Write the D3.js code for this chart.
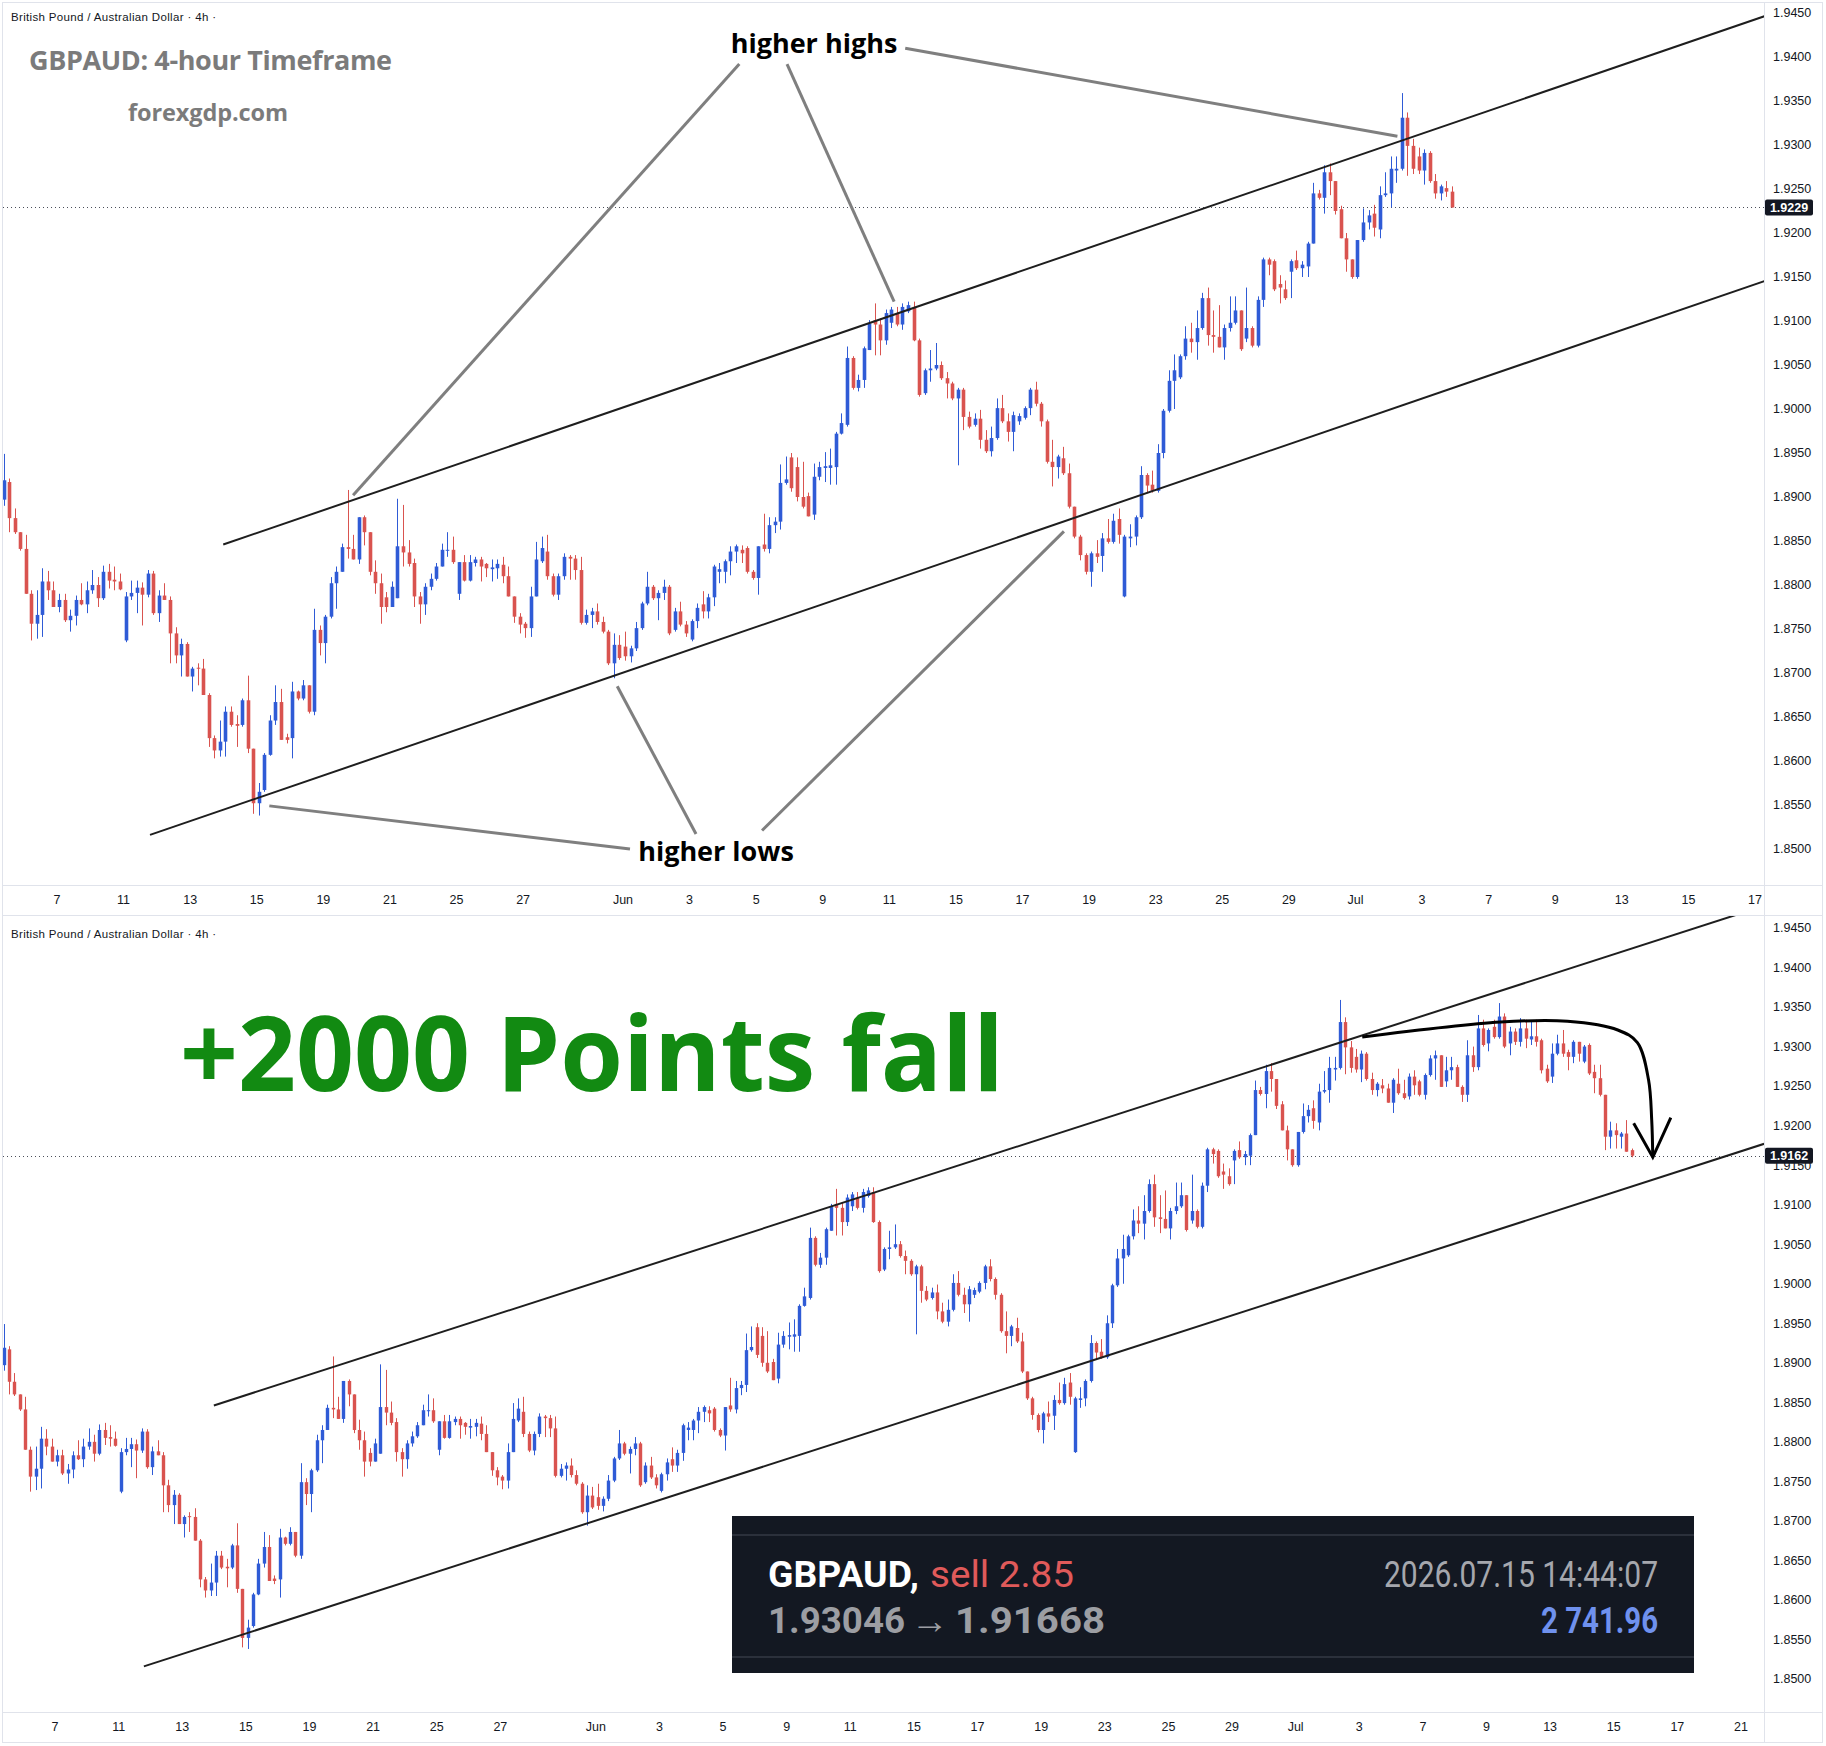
<!DOCTYPE html>
<html>
<head>
<meta charset="utf-8">
<script src="https://cdn.jsdelivr.net/npm/d3@7"></script>
<style>
  body { margin: 0; background: #fff; }
  svg text { font-family: "Liberation Sans", Arial, sans-serif; }
</style>
</head>
<body>
<svg id="chart" width="1826" height="1746"></svg>
<script>
// GBPAUD 4h candles (one value per 4h bar, May 5 -> Jul 15)
var opens = [
1.8897,1.8917,1.8876,1.8860,1.8841,1.8790,1.8756,1.8766,1.8804,1.8794,
1.8775,1.8783,1.8760,1.8765,1.8783,1.8778,1.8794,1.8800,1.8785,1.8815,
1.8806,1.8804,1.8737,1.8787,1.8791,1.8797,1.8789,1.8813,1.8768,1.8788,
1.8783,1.8745,1.8720,1.8733,1.8696,1.8706,1.8705,1.8675,1.8626,1.8612,
1.8622,1.8656,1.8642,1.8641,1.8669,1.8614,1.8552,1.8567,1.8607,1.8646,
1.8667,1.8627,1.8626,1.8679,1.8671,1.8686,1.8656,1.8749,1.8734,1.8764,
1.8802,1.8815,1.8843,1.8841,1.8829,1.8877,1.8860,1.8815,1.8802,1.8786,
1.8775,1.8785,1.8844,1.8837,1.8825,1.8787,1.8778,1.8798,1.8807,1.8821,
1.8839,1.8840,1.8790,1.8826,1.8805,1.8825,1.8829,1.8824,1.8818,1.8819,
1.8823,1.8810,1.8787,1.8764,1.8756,1.8751,1.8787,1.8827,1.8838,1.8810,
1.8789,1.8810,1.8832,1.8830,1.8817,1.8757,1.8766,1.8770,1.8758,1.8747,
1.8711,1.8732,1.8730,1.8719,1.8728,1.8751,1.8779,1.8798,1.8785,1.8791,
1.8798,1.8749,1.8770,1.8755,1.8738,1.8759,1.8778,1.8770,1.8786,1.8815,
1.8815,1.8827,1.8838,1.8840,1.8842,1.8815,1.8808,1.8846,1.8841,1.8868,
1.8872,1.8916,1.8945,1.8934,1.8900,1.8901,1.8880,1.8923,1.8933,1.8933,
1.8934,1.8972,1.8982,1.9058,1.9024,1.9033,1.9067,1.9101,1.9096,1.9078,
1.9098,1.9109,1.9096,1.9111,1.9116,1.9078,1.9018,1.9044,1.9046,1.9050,
1.9035,1.9029,1.9012,1.9022,1.8991,1.8982,1.8989,1.8965,1.8952,1.8967,
1.9001,1.8986,1.8974,1.8986,1.8990,1.9001,1.9022,1.9006,1.8986,1.8940,
1.8934,1.8944,1.8927,1.8889,1.8855,1.8834,1.8815,1.8836,1.8833,1.8853,
1.8849,1.8875,1.8787,1.8853,1.8855,1.8877,1.8925,1.8914,1.8907,1.8950,
1.8998,1.9032,1.9036,1.9060,1.9080,1.9076,1.9092,1.9126,1.9084,1.9082,
1.9070,1.9092,1.9098,1.9112,1.9080,1.9092,1.9072,1.9124,1.9170,1.9168,
1.9142,1.9136,1.9156,1.9169,1.9160,1.9162,1.9188,1.9245,1.9240,1.9269,
1.9259,1.9227,1.9194,1.9170,1.9150,1.9192,1.9212,1.9222,1.9204,1.9243,
1.9245,1.9271,1.9273,1.9331,1.9299,1.9287,1.9271,1.9291,1.9259,1.9245,
1.9251,1.9247,1.9229,1.9253,1.9241,1.9237,1.9262,1.9256,1.9239,1.9264,
1.9285,1.9289,1.9256,1.9270,1.9274,1.9249,1.9239,1.9289,1.9274,1.9323,
1.9304,1.9325,1.9312,1.9338,1.9304,1.9319,1.9306,1.9323,1.9309,1.9313,
1.9308,1.9272,1.9262,1.9291,1.9304,1.9293,1.9287,1.9306,1.9281,1.9302,
1.9268,1.9260,1.9239,1.9186,1.9194,1.9186,1.9190,1.9169];

var highs = [
1.8949,1.8921,1.8887,1.8860,1.8857,1.8794,1.8794,1.8819,1.8816,1.8804,
1.8790,1.8790,1.8772,1.8788,1.8802,1.8804,1.8817,1.8809,1.8822,1.8824,
1.8821,1.8813,1.8792,1.8805,1.8805,1.8803,1.8817,1.8816,1.8794,1.8802,
1.8787,1.8752,1.8739,1.8735,1.8707,1.8711,1.8716,1.8677,1.8629,1.8646,
1.8662,1.8662,1.8652,1.8671,1.8697,1.8614,1.8575,1.8609,1.8652,1.8686,
1.8682,1.8631,1.8690,1.8680,1.8692,1.8686,1.8773,1.8754,1.8766,1.8809,
1.8821,1.8847,1.8908,1.8857,1.8877,1.8879,1.8860,1.8828,1.8813,1.8792,
1.8804,1.8898,1.8891,1.8851,1.8830,1.8792,1.8802,1.8813,1.8825,1.8847,
1.8860,1.8855,1.8826,1.8834,1.8834,1.8832,1.8832,1.8825,1.8829,1.8829,
1.8832,1.8821,1.8787,1.8768,1.8758,1.8798,1.8849,1.8855,1.8857,1.8813,
1.8813,1.8836,1.8834,1.8834,1.8832,1.8772,1.8774,1.8779,1.8764,1.8749,
1.8745,1.8743,1.8747,1.8731,1.8758,1.8781,1.8815,1.8800,1.8794,1.8806,
1.8800,1.8774,1.8781,1.8759,1.8761,1.8779,1.8793,1.8790,1.8823,1.8825,
1.8829,1.8844,1.8846,1.8845,1.8844,1.8817,1.8844,1.8881,1.8877,1.8877,
1.8937,1.8946,1.8950,1.8945,1.8940,1.8905,1.8938,1.8940,1.8951,1.8955,
1.8974,1.8995,1.9071,1.9060,1.9039,1.9071,1.9101,1.9120,1.9103,1.9113,
1.9116,1.9116,1.9120,1.9122,1.9122,1.9080,1.9046,1.9067,1.9075,1.9054,
1.9042,1.9031,1.9024,1.9024,1.8997,1.8995,1.8999,1.8976,1.8980,1.9012,
1.9016,1.8995,1.8997,1.8995,1.9003,1.9024,1.9031,1.9008,1.8988,1.8965,
1.8948,1.8957,1.8938,1.8889,1.8857,1.8836,1.8838,1.8851,1.8859,1.8875,
1.8881,1.8887,1.8857,1.8869,1.8879,1.8935,1.8927,1.8930,1.8960,1.9000,
1.9044,1.9062,1.9062,1.9094,1.9098,1.9112,1.9132,1.9138,1.9112,1.9118,
1.9096,1.9128,1.9128,1.9112,1.9138,1.9094,1.9128,1.9172,1.9172,1.9170,
1.9152,1.9146,1.9170,1.9180,1.9168,1.9190,1.9257,1.9249,1.9277,1.9279,
1.9259,1.9231,1.9200,1.9170,1.9192,1.9228,1.9226,1.9232,1.9253,1.9269,
1.9287,1.9287,1.9359,1.9337,1.9307,1.9297,1.9295,1.9293,1.9267,1.9255,
1.9259,1.9253,1.9260,1.9272,1.9258,1.9266,1.9270,1.9258,1.9266,1.9289,
1.9295,1.9289,1.9287,1.9287,1.9277,1.9251,1.9308,1.9300,1.9340,1.9334,
1.9323,1.9334,1.9355,1.9342,1.9325,1.9323,1.9336,1.9334,1.9332,1.9334,
1.9310,1.9277,1.9304,1.9315,1.9321,1.9296,1.9308,1.9306,1.9302,1.9304,
1.9277,1.9277,1.9239,1.9205,1.9203,1.9192,1.9207,1.9171];

var lows = [
1.8890,1.8860,1.8858,1.8839,1.8790,1.8737,1.8739,1.8741,1.8783,1.8775,
1.8769,1.8758,1.8747,1.8754,1.8777,1.8768,1.8790,1.8775,1.8783,1.8796,
1.8794,1.8794,1.8735,1.8783,1.8768,1.8754,1.8786,1.8766,1.8758,1.8783,
1.8711,1.8711,1.8696,1.8696,1.8679,1.8686,1.8675,1.8616,1.8603,1.8605,
1.8605,1.8639,1.8616,1.8639,1.8609,1.8540,1.8538,1.8565,1.8606,1.8641,
1.8624,1.8620,1.8603,1.8669,1.8669,1.8654,1.8652,1.8720,1.8711,1.8762,
1.8773,1.8815,1.8830,1.8829,1.8824,1.8845,1.8811,1.8790,1.8756,1.8769,
1.8775,1.8785,1.8821,1.8821,1.8775,1.8756,1.8766,1.8794,1.8805,1.8821,
1.8832,1.8824,1.8783,1.8804,1.8804,1.8821,1.8804,1.8809,1.8804,1.8807,
1.8802,1.8787,1.8757,1.8745,1.8740,1.8741,1.8787,1.8825,1.8806,1.8787,
1.8783,1.8806,1.8806,1.8806,1.8755,1.8755,1.8751,1.8755,1.8745,1.8709,
1.8694,1.8715,1.8714,1.8712,1.8725,1.8749,1.8777,1.8783,1.8760,1.8783,
1.8743,1.8747,1.8753,1.8741,1.8736,1.8751,1.8762,1.8762,1.8776,1.8802,
1.8802,1.8811,1.8825,1.8825,1.8813,1.8806,1.8789,1.8838,1.8836,1.8859,
1.8863,1.8914,1.8906,1.8895,1.8887,1.8878,1.8874,1.8919,1.8917,1.8914,
1.8914,1.8971,1.8980,1.9022,1.9020,1.9024,1.9067,1.9061,1.9061,1.9073,
1.9092,1.9094,1.9090,1.9109,1.9077,1.9014,1.9016,1.9031,1.9044,1.9033,
1.9012,1.9010,1.8936,1.8976,1.8978,1.8980,1.8955,1.8950,1.8946,1.8965,
1.8984,1.8963,1.8952,1.8982,1.8988,1.8993,1.9003,1.8980,1.8938,1.8912,
1.8921,1.8925,1.8887,1.8853,1.8828,1.8812,1.8798,1.8825,1.8815,1.8847,
1.8847,1.8847,1.8786,1.8843,1.8845,1.8875,1.8905,1.8905,1.8905,1.8944,
1.8996,1.9000,1.9034,1.9056,1.9064,1.9056,1.9090,1.9072,1.9064,1.9070,
1.9056,1.9088,1.9096,1.9066,1.9076,1.9070,1.9070,1.9116,1.9152,1.9134,
1.9120,1.9124,1.9126,1.9158,1.9150,1.9150,1.9188,1.9238,1.9222,1.9243,
1.9221,1.9194,1.9156,1.9148,1.9148,1.9190,1.9204,1.9196,1.9194,1.9241,
1.9229,1.9257,1.9271,1.9265,1.9267,1.9267,1.9255,1.9257,1.9239,1.9237,
1.9241,1.9229,1.9216,1.9239,1.9233,1.9233,1.9239,1.9237,1.9233,1.9262,
1.9258,1.9249,1.9249,1.9258,1.9249,1.9230,1.9230,1.9268,1.9270,1.9300,
1.9294,1.9310,1.9310,1.9298,1.9289,1.9302,1.9300,1.9298,1.9302,1.9300,
1.9266,1.9254,1.9254,1.9289,1.9287,1.9270,1.9279,1.9281,1.9279,1.9264,
1.9241,1.9237,1.9169,1.9171,1.9171,1.9171,1.9167,1.9160];

var closes = [
1.8919,1.8876,1.8860,1.8841,1.8790,1.8756,1.8766,1.8804,1.8794,1.8775,
1.8783,1.8760,1.8765,1.8783,1.8778,1.8794,1.8800,1.8785,1.8815,1.8805,
1.8804,1.8795,1.8787,1.8791,1.8797,1.8789,1.8813,1.8768,1.8788,1.8783,
1.8745,1.8720,1.8733,1.8696,1.8705,1.8705,1.8675,1.8626,1.8612,1.8622,
1.8656,1.8641,1.8640,1.8669,1.8614,1.8552,1.8565,1.8607,1.8646,1.8667,
1.8624,1.8624,1.8679,1.8671,1.8686,1.8656,1.8749,1.8734,1.8764,1.8802,
1.8815,1.8843,1.8841,1.8829,1.8877,1.8860,1.8815,1.8802,1.8775,1.8775,
1.8798,1.8844,1.8837,1.8824,1.8787,1.8778,1.8798,1.8807,1.8821,1.8840,
1.8840,1.8826,1.8826,1.8805,1.8826,1.8829,1.8821,1.8819,1.8820,1.8824,
1.8810,1.8787,1.8764,1.8755,1.8751,1.8787,1.8829,1.8842,1.8810,1.8789,
1.8810,1.8832,1.8830,1.8817,1.8757,1.8766,1.8770,1.8758,1.8747,1.8711,
1.8732,1.8717,1.8719,1.8728,1.8751,1.8779,1.8798,1.8785,1.8791,1.8798,
1.8745,1.8770,1.8755,1.8745,1.8759,1.8774,1.8770,1.8786,1.8821,1.8818,
1.8827,1.8838,1.8844,1.8836,1.8815,1.8808,1.8844,1.8841,1.8868,1.8872,
1.8916,1.8920,1.8910,1.8900,1.8889,1.8878,1.8923,1.8934,1.8935,1.8936,
1.8972,1.8984,1.9058,1.9024,1.9033,1.9069,1.9097,1.9096,1.9078,1.9109,
1.9113,1.9096,1.9116,1.9118,1.9078,1.9016,1.9044,1.9046,1.9050,1.9035,
1.9029,1.9012,1.9022,1.8991,1.8980,1.8989,1.8965,1.8952,1.8967,1.9001,
1.8986,1.8974,1.8993,1.8992,1.9001,1.9022,1.9006,1.8986,1.8940,1.8934,
1.8946,1.8927,1.8889,1.8855,1.8834,1.8815,1.8836,1.8832,1.8853,1.8849,
1.8873,1.8857,1.8855,1.8855,1.8877,1.8925,1.8913,1.8907,1.8950,1.8998,
1.9032,1.9044,1.9060,1.9080,1.9076,1.9092,1.9126,1.9084,1.9082,1.9070,
1.9092,1.9098,1.9112,1.9068,1.9092,1.9072,1.9124,1.9170,1.9164,1.9136,
1.9138,1.9126,1.9168,1.9160,1.9164,1.9188,1.9245,1.9240,1.9269,1.9259,
1.9225,1.9194,1.9170,1.9150,1.9192,1.9212,1.9220,1.9206,1.9243,1.9245,
1.9273,1.9273,1.9331,1.9299,1.9273,1.9271,1.9291,1.9259,1.9245,1.9253,
1.9247,1.9229,1.9258,1.9241,1.9235,1.9262,1.9251,1.9239,1.9264,1.9285,
1.9289,1.9249,1.9270,1.9274,1.9249,1.9239,1.9289,1.9274,1.9323,1.9302,
1.9321,1.9312,1.9338,1.9300,1.9319,1.9306,1.9323,1.9310,1.9313,1.9306,
1.9270,1.9256,1.9291,1.9304,1.9291,1.9287,1.9306,1.9291,1.9300,1.9266,
1.9260,1.9239,1.9186,1.9194,1.9188,1.9190,1.9167,1.9162];

// time axis: trading days counted from May 7, six 4h bars per day
var BAR0 = 9.64;
var tickDays   = [0,2,4,6,8,10,12,14,17,19,21,23,25,27,29,31,33,35,37,39,41,43,45,47,49,51,53];
var tickLabels = ["7","11","13","15","19","21","25","27","Jun","3","5","9","11","15","17","19","23","25","29","Jul","3","7","9","13","15","17","21"];

var priceTicks = [1.945,1.940,1.935,1.930,1.925,1.920,1.915,1.910,1.905,1.900,
                  1.895,1.890,1.885,1.880,1.875,1.870,1.865,1.860,1.855,1.850];

// channel lines [bar, price]
var channelUpper = [[39.6, 1.8846], [332, 1.9478]];
var channelLower = [[26.4, 1.8516], [332, 1.9177]];

// pointer lines of the top chart [bar, price]
var highsPointers = [
  [[132.6, 1.9392], [63.0, 1.8902]],
  [[141.2, 1.9392], [160.5, 1.9122]],
  [[162.5, 1.9410], [251.2, 1.9310]]
];
var lowsPointers = [
  [[47.9, 1.8549], [112.9, 1.8500]],
  [[110.6, 1.8685], [124.8, 1.8517]],
  [[136.7, 1.8521], [191.1, 1.8861]]
];

// curved arrow of the bottom chart [bar, price]
var arrowPath = [[256.2,1.9312],[282.3,1.9331],[294.9,1.9332],[304.4,1.9321],
                 [308.1,1.9305],[310.2,1.9258],[310.8,1.9207],[311.0,1.9160]];
var arrowHead = [[307.4,1.9203],[311.0,1.9160],[314.4,1.9210]];

var UP = "#2f5bd6", DOWN = "#d9534f", FRAME = "#e0e3eb", INK = "#131722";

var svg = d3.select("#chart");
svg.append("rect").attr("width", 1826).attr("height", 1746).attr("fill", "#fff");

var panels = [
  { name: "top", top: 3, chartBottom: 885, axisBottom: 915, nBars: 262, last: 1.9229, head: 18,
    x: d3.scaleLinear().domain([BAR0, BAR0 + 6 * 51]).range([57, 1755]),
    y: d3.scaleLinear().domain([1.85, 1.945]).range([849, 13]), bw: 3.6 },
  { name: "bottom", top: 916, chartBottom: 1712, axisBottom: 1742, nBars: 308, last: 1.9162, head: 22,
    x: d3.scaleLinear().domain([BAR0, BAR0 + 6 * 53]).range([55, 1741]),
    y: d3.scaleLinear().domain([1.85, 1.945]).range([1679, 928]), bw: 3.4 }
];

function drawPanel(p) {
  var g = svg.append("g");
  var clipId = "clip-" + p.name;
  svg.append("clipPath").attr("id", clipId)
    .append("rect").attr("x", 3).attr("y", p.top)
    .attr("width", 1761).attr("height", p.chartBottom - p.top);

  // frame
  g.append("rect").attr("x", 2.5).attr("y", p.top - 0.5)
    .attr("width", 1820).attr("height", p.axisBottom - p.top + 1)
    .attr("fill", "none").attr("stroke", FRAME);
  g.append("line").attr("x1", 3).attr("x2", 1822)
    .attr("y1", p.chartBottom + 0.5).attr("y2", p.chartBottom + 0.5).attr("stroke", FRAME);
  g.append("line").attr("x1", 1764.5).attr("x2", 1764.5)
    .attr("y1", p.top).attr("y2", p.axisBottom).attr("stroke", FRAME);

  // header
  g.append("text").attr("x", 11).attr("y", p.top + p.head)
    .attr("font-size", 11.5).attr("fill", INK).attr("textLength", 205)
    .text("British Pound / Australian Dollar \u00b7 4h \u00b7");

  // price axis (the last-price tag sits on top of the tick it covers, as in the original)
  g.selectAll(".ptick").data(priceTicks).enter().append("text")
    .attr("x", 1773).attr("y", function(d) { return p.y(d); })
    .attr("dy", "0.35em").attr("font-size", 12.5).attr("fill", INK)
    .text(function(d) { return d.toFixed(4); });

  // time axis
  var ticks = tickDays.map(function(d, i) { return { bar: BAR0 + 6 * d, label: tickLabels[i] }; })
    .filter(function(t) { return p.x(t.bar) < 1760; });
  g.selectAll(".ttick").data(ticks).enter().append("text")
    .attr("x", function(t) { return p.x(t.bar); })
    .attr("y", p.chartBottom + 19).attr("text-anchor", "middle")
    .attr("font-size", 12.5).attr("fill", INK)
    .text(function(t) { return t.label; });

  var plot = g.append("g").attr("clip-path", "url(#" + clipId + ")");

  // dotted last-price line
  plot.append("line").attr("x1", 3).attr("x2", 1764)
    .attr("y1", Math.round(p.y(p.last)) + 0.5).attr("y2", Math.round(p.y(p.last)) + 0.5)
    .attr("stroke", "#4a4e59").attr("stroke-dasharray", "1,3");

  // candles
  var bars = d3.range(p.nBars);
  var cg = plot.selectAll(".candle").data(bars).enter().append("g");
  cg.append("line")
    .attr("x1", function(i) { return Math.round(p.x(i)) + 0.5; })
    .attr("x2", function(i) { return Math.round(p.x(i)) + 0.5; })
    .attr("y1", function(i) { return p.y(Math.max(highs[i], opens[i], closes[i])); })
    .attr("y2", function(i) { return p.y(Math.min(lows[i], opens[i], closes[i])); })
    .attr("stroke", function(i) { return closes[i] >= opens[i] ? UP : DOWN; })
    .attr("stroke-width", 1);
  cg.append("rect")
    .attr("x", function(i) { return Math.round(p.x(i)) + 0.5 - p.bw / 2; })
    .attr("width", p.bw)
    .attr("y", function(i) { return p.y(Math.max(opens[i], closes[i])); })
    .attr("height", function(i) { return Math.max(1, Math.abs(p.y(opens[i]) - p.y(closes[i]))); })
    .attr("fill", function(i) { return closes[i] >= opens[i] ? UP : DOWN; });

  // channel
  var line = d3.line().x(function(d) { return p.x(d[0]); }).y(function(d) { return p.y(d[1]); });
  [channelUpper, channelLower].forEach(function(c) {
    plot.append("path").attr("d", line(c)).attr("fill", "none")
      .attr("stroke", "#1e1e1e").attr("stroke-width", 2);
  });

  // last price label
  var ly = p.y(p.last);
  g.append("rect").attr("x", 1765).attr("y", ly - 8).attr("width", 48).attr("height", 16)
    .attr("rx", 2).attr("fill", INK);
  g.append("text").attr("x", 1789).attr("y", ly).attr("dy", "0.36em")
    .attr("text-anchor", "middle").attr("font-size", 12.5).attr("font-weight", "bold")
    .attr("fill", "#fff").text(p.last.toFixed(4));

  return { plot: plot, line: line };
}

var topP = drawPanel(panels[0]);
var botP = drawPanel(panels[1]);

// ---- top chart annotations
highsPointers.concat(lowsPointers).forEach(function(seg) {
  topP.plot.append("path").attr("d", topP.line(seg)).attr("fill", "none")
    .attr("stroke", "#7f7f7f").attr("stroke-width", 3);
});

svg.append("text").attr("x", 29).attr("y", 70)
  .style("font-family", "'Open Sans', sans-serif").attr("font-weight", "bold")
  .attr("font-size", 27).attr("fill", "#7b7b7b").attr("textLength", 363)
  .text("GBPAUD: 4-hour Timeframe");
svg.append("text").attr("x", 128).attr("y", 121)
  .style("font-family", "'Open Sans', sans-serif").attr("font-weight", "bold")
  .attr("font-size", 23.5).attr("fill", "#7b7b7b").attr("textLength", 160)
  .text("forexgdp.com");
svg.append("text").attr("x", 814).attr("y", 53).attr("text-anchor", "middle")
  .style("font-family", "'Open Sans', sans-serif").attr("font-weight", "bold")
  .attr("font-size", 27).attr("fill", "#000").text("higher highs");
svg.append("text").attr("x", 716).attr("y", 861).attr("text-anchor", "middle")
  .style("font-family", "'Open Sans', sans-serif").attr("font-weight", "bold")
  .attr("font-size", 27).attr("fill", "#000").text("higher lows");

// ---- bottom chart annotations
botP.plot.append("path")
  .attr("d", d3.line().curve(d3.curveCatmullRom.alpha(0.5))
    .x(function(d) { return panels[1].x(d[0]); }).y(function(d) { return panels[1].y(d[1]); })(arrowPath))
  .attr("fill", "none").attr("stroke", "#000").attr("stroke-width", 3);
botP.plot.append("path").attr("d", botP.line(arrowHead)).attr("fill", "none")
  .attr("stroke", "#000").attr("stroke-width", 3).attr("stroke-linejoin", "miter");

svg.append("text").attr("x", 180).attr("y", 1091)
  .style("font-family", "'Open Sans', sans-serif").attr("font-weight", "bold")
  .attr("font-size", 104).attr("fill", "#128a12").attr("textLength", 824)
  .attr("lengthAdjust", "spacingAndGlyphs").text("+2000 Points fall");

// trade box
var box = svg.append("g");
box.append("rect").attr("x", 732).attr("y", 1516).attr("width", 962).attr("height", 157).attr("fill", "#131822");
box.append("rect").attr("x", 732).attr("y", 1534).attr("width", 962).attr("height", 2).attr("fill", "#2b303b");
box.append("rect").attr("x", 732).attr("y", 1656).attr("width", 962).attr("height", 2).attr("fill", "#2b303b");
function boxText(x, y, txt, color, weight, len, anchor) {
  box.append("text").attr("x", x).attr("y", y).attr("text-anchor", anchor || "start")
    .style("font-family", "Roboto, sans-serif").attr("font-size", 36)
    .attr("font-weight", weight).attr("fill", color)
    .attr("textLength", len).attr("lengthAdjust", "spacingAndGlyphs").text(txt);
}
boxText(768, 1587, "GBPAUD,", "#ffffff", "bold", 151);
boxText(930, 1587, "sell 2.85", "#e05a5a", "normal", 144);
boxText(768, 1633, "1.93046", "#9c9ea3", "bold", 137);
boxText(911, 1633, "\u2192", "#9c9ea3", "bold", 38);
boxText(955, 1633, "1.91668", "#9c9ea3", "bold", 150);
boxText(1658, 1587, "2026.07.15 14:44:07", "#a5a7ad", "normal", 274, "end");
boxText(1658, 1633, "2 741.96", "#6f91ee", "bold", 117, "end");
</script>
</body>
</html>
